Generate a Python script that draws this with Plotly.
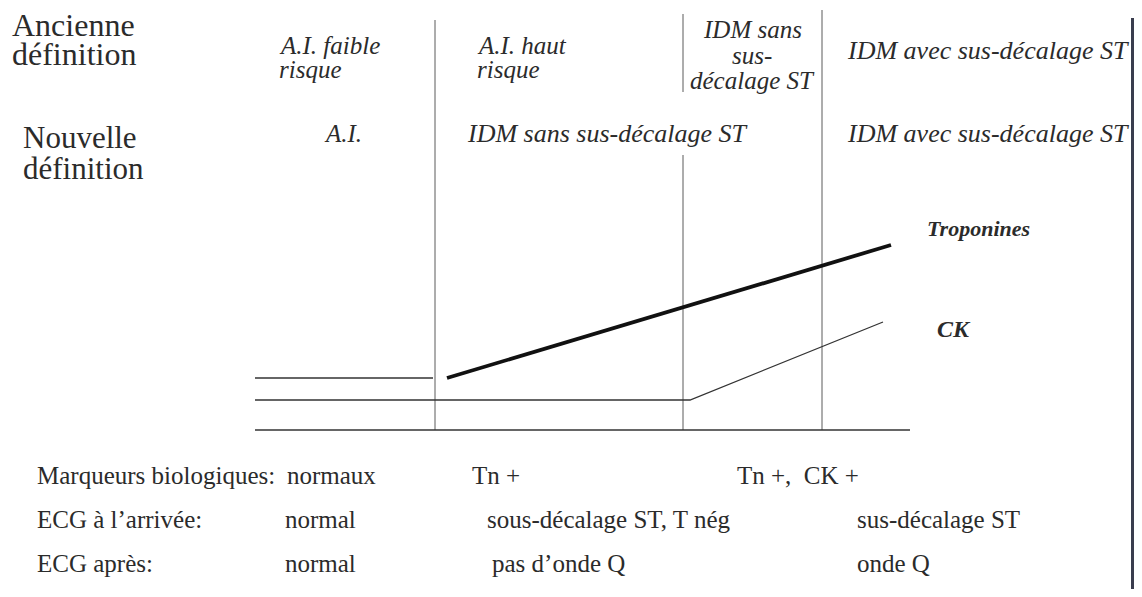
import plotly.graph_objects as go

# --- données du schéma (repère image : x vers la droite, y vers le bas) ---
# séparateurs verticaux : x, début, fin
sep_x = [435, 683, 683, 822]
sep_y0 = [20, 14, 155, 10]
sep_y1 = [430, 92, 430, 430]

# courbes des marqueurs
tropo_x = [447, 891]
tropo_y = [378, 245]
ck_x = [255, 690, 883]
ck_y = [400, 400, 322]
ref_x = [255, 433]
ref_y = [378, 378]
base_x = [255, 910]
base_y = [430, 430]

# textes
anc_label = ["Ancienne", "définition"]
nouv_label = ["Nouvelle", "définition"]
anc_cols = [["A.I. faible", "risque"], ["A.I. haut", "risque"],
            ["IDM sans", "sus-", "décalage ST"], ["IDM avec sus-décalage ST"]]
nouv_cols = ["A.I.", "IDM sans sus-décalage ST", "IDM avec sus-décalage ST"]
curve_labels = ["Troponines", "CK"]
row_labels = ["Marqueurs biologiques:", "ECG à l’arrivée:", "ECG après:"]
row_values = [["normaux", "Tn +", "Tn +,  CK +"],
              ["normal", "sous-décalage ST, T nég", "sus-décalage ST"],
              ["normal", "pas d’onde Q", "onde Q"]]

SERIF = "Liberation Serif, Times New Roman, serif"
INK = "#2b2b2b"
LINE = "#5a5a5a"

fig = go.Figure()

for x, a, b in zip(sep_x, sep_y0, sep_y1):
    fig.add_trace(go.Scatter(x=[x, x], y=[a, b], mode="lines",
                             line=dict(color=LINE, width=1), hoverinfo="skip"))

fig.add_trace(go.Scatter(x=base_x, y=base_y, mode="lines",
                         line=dict(color="#333", width=1.3), hoverinfo="skip"))
fig.add_trace(go.Scatter(x=ref_x, y=ref_y, mode="lines",
                         line=dict(color="#333", width=1.3), hoverinfo="skip"))
fig.add_trace(go.Scatter(x=ck_x, y=ck_y, mode="lines",
                         line=dict(color="#333", width=1.3), hoverinfo="skip"))
fig.add_trace(go.Scatter(x=tropo_x, y=tropo_y, mode="lines",
                         line=dict(color="#111", width=3.8), hoverinfo="skip"))


def txt(x, y, s, size, anchor="left", style="normal", weight="normal"):
    fig.add_annotation(x=x, y=y, xref="x", yref="y", text=s, showarrow=False,
                       xanchor=anchor, yanchor="middle",
                       font=dict(family=SERIF, size=size, color=INK,
                                 style=style, weight=weight))


# en-têtes à gauche
for s, y in zip(anc_label, [25, 54]):
    txt(10, y, s, 32)
for s, y in zip(nouv_label, [137, 168]):
    txt(21, y, s, 31)

# ancienne définition
for s, y in zip(anc_cols[0], [45, 69]):
    txt(277, y, s, 25, style="italic")
for s, y in zip(anc_cols[1], [45, 69]):
    txt(475, y, s, 25, style="italic")
for s, y in zip(anc_cols[2], [29, 55, 80]):
    txt(752, y, s, 25, anchor="center", style="italic")
txt(845, 50, anc_cols[3][0], 26, style="italic")

# nouvelle définition
txt(343, 133, nouv_cols[0], 25, anchor="center", style="italic")
txt(465, 133, nouv_cols[1], 26, style="italic")
txt(845, 133, nouv_cols[2], 26, style="italic")

# étiquettes des courbes
txt(925, 228, curve_labels[0], 22, style="italic", weight="bold")
txt(935, 329, curve_labels[1], 24, style="italic", weight="bold")

# lignes du bas
row_y = [475, 519, 563]
col_x = [[285, 470, 735], [283, 485, 855], [283, 490, 855]]
for lab, vals, y, xs in zip(row_labels, row_values, row_y, col_x):
    txt(35, y, lab, 25)
    for v, x in zip(vals, xs):
        txt(x, y, v, 25)

# bord sombre à droite
fig.add_shape(type="rect", xref="x", yref="y", x0=1131, x1=1134,
              y0=18, y1=589, fillcolor="#3a3d4e", line=dict(width=0), layer="above")

# la page ajoute 8 px de marge : la figure couvre les pixels 8..1134 / 8..589
fig.update_layout(
    width=1126, height=581,
    margin=dict(l=0, r=0, t=0, b=0),
    paper_bgcolor="white", plot_bgcolor="white",
    showlegend=False,
    xaxis=dict(range=[8, 1134], visible=False, fixedrange=True),
    yaxis=dict(range=[589, 8], visible=False, fixedrange=True),
)

fig.write_html("out.html")
